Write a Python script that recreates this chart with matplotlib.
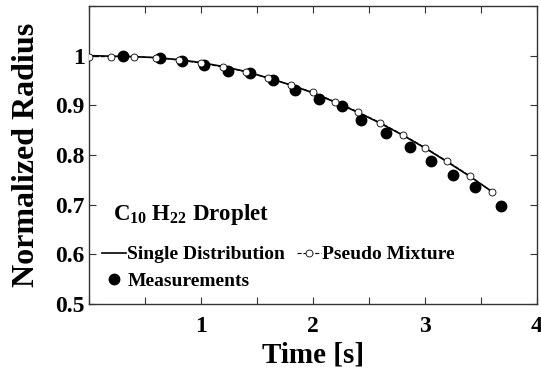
import matplotlib.pyplot as plt
import numpy as np

# data
t_model = [0.0, 0.2, 0.4, 0.6, 0.8, 1.0, 1.2, 1.4, 1.6, 1.8, 2.0, 2.2, 2.4, 2.6, 2.8, 3.0, 3.2, 3.4, 3.6]
r_single = [1.0, 0.999, 0.998, 0.996, 0.992, 0.986, 0.978, 0.968, 0.955, 0.941, 0.925, 0.906, 0.886, 0.864, 0.840, 0.814, 0.786, 0.757, 0.726]
r_pseudo = [0.998, 0.998, 0.998, 0.996, 0.991, 0.985, 0.977, 0.968, 0.955, 0.941, 0.926, 0.907, 0.887, 0.865, 0.841, 0.815, 0.787, 0.758, 0.725]
t_meas = [0.30, 0.63, 0.83, 1.03, 1.24, 1.44, 1.64, 1.84, 2.05, 2.26, 2.43, 2.65, 2.87, 3.05, 3.25, 3.45, 3.68]
r_meas = [0.999, 0.995, 0.989, 0.981, 0.970, 0.965, 0.950, 0.931, 0.913, 0.898, 0.871, 0.845, 0.817, 0.787, 0.760, 0.735, 0.697]

x_ticks = np.arange(0, 4.01, 0.5)
x_labels = ["", "", "1", "", "2", "", "3", "", "4"]
y_ticks = [0.5, 0.6, 0.7, 0.8, 0.9, 1.0, 1.1]
y_labels = ["0.5", "0.6", "0.7", "0.8", "0.9", "1", ""]

plt.rcParams['font.family'] = ['Liberation Serif', 'DejaVu Serif']
plt.rcParams['font.weight'] = 'bold'
plt.rcParams['mathtext.fontset'] = 'custom'
plt.rcParams['mathtext.rm'] = 'Liberation Serif:bold'
plt.rcParams['mathtext.it'] = 'Liberation Serif:bold'

fig = plt.figure(figsize=(5.41, 3.81), dpi=100)
ax = fig.add_axes([0.1645, 0.2021, 0.8281, 0.7822])

line_s, = ax.plot(t_model, r_single, color="black", lw=1.2, label="Single Distribution", zorder=3)
line_p, = ax.plot(t_model, r_pseudo, color="black", lw=0.8, ls="--", marker="o", ms=5,
                  mfc="white", mec="black", mew=0.6, label="Pseudo Mixture", zorder=4)
line_m, = ax.plot(t_meas, r_meas, ls="none", marker="o", ms=7.5, color="black",
                  label="Measurements", zorder=2)

ax.set_xlim(0, 4)
ax.set_ylim(0.5, 1.1)
ax.set_xticks(x_ticks)
ax.set_xticklabels(x_labels)
ax.set_yticks(y_ticks)
ax.set_yticklabels(y_labels)
ax.tick_params(direction="in", length=5, width=0.8, top=True, right=True,
               labelsize=17, colors="#333333", labelcolor="black")
ax.tick_params(axis="x", pad=9)
ax.tick_params(axis="y", pad=3)
for s in ax.spines.values():
    s.set_color("#333333")
    s.set_linewidth(1.0)

ax.set_xlabel("Time [s]", fontsize=21, fontweight="bold", labelpad=3)
ax.set_ylabel("Normalized Radius", fontsize=23, fontweight="bold", labelpad=10)

ax.text(0.053, 0.30, r"C$_{10}$ H$_{22}$ Droplet", transform=ax.transAxes,
        fontsize=16.5, fontweight="bold", va="center", ha="left")

ax.legend([line_s, line_m, line_p], ["Single Distribution", "Measurements", "Pseudo Mixture"],
          ncol=2, frameon=False, loc="upper left", bbox_to_anchor=(0.029, 0.195),
          prop={"size": 14, "weight": "bold"}, handlelength=1.25, handletextpad=0.05,
          columnspacing=0.6, labelspacing=0.45, borderpad=0, borderaxespad=0)

fig.savefig("out.png", dpi=100)
